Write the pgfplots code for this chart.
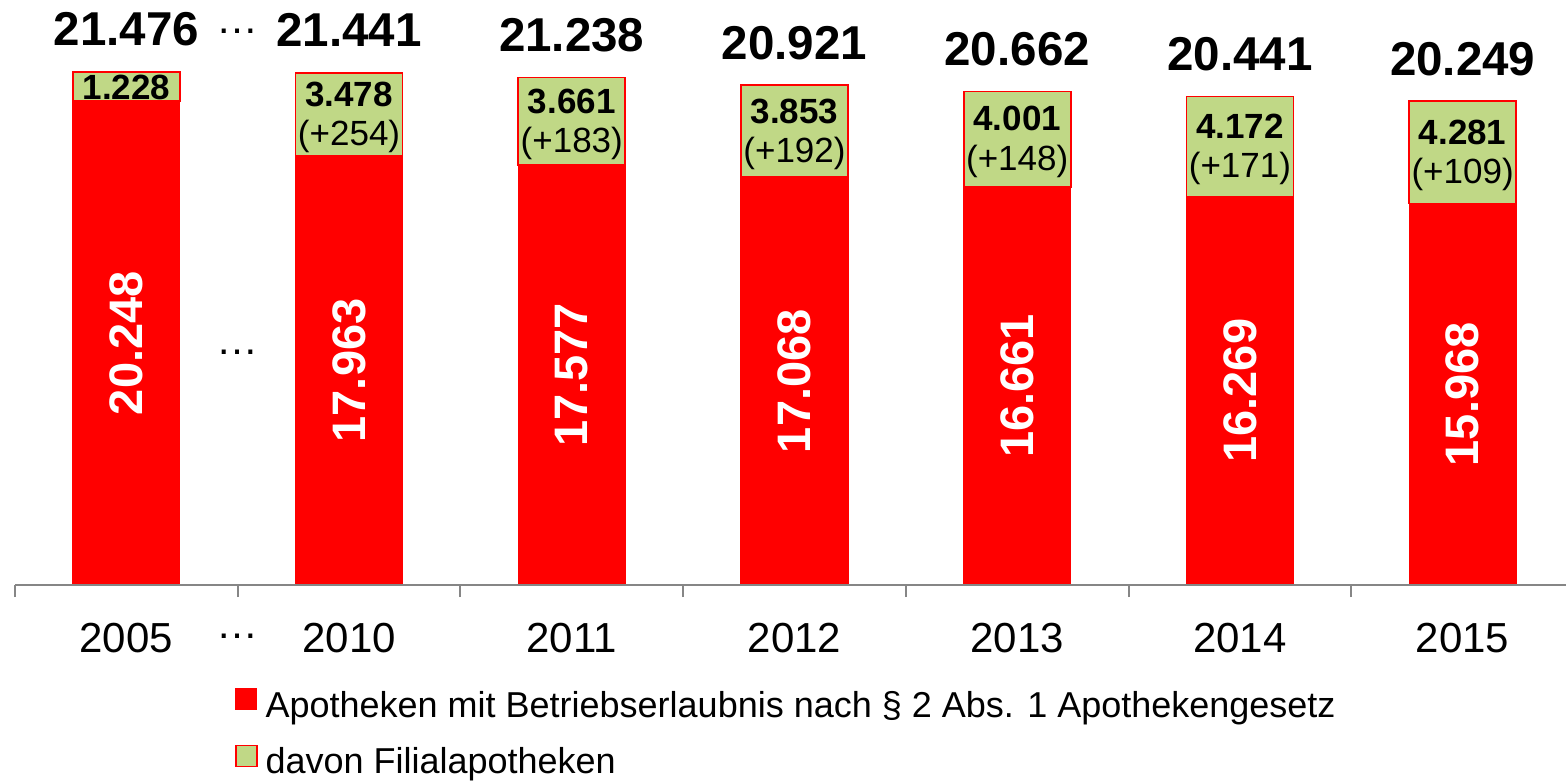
\documentclass[border=0pt]{standalone}
\usepackage{pgfplots}
\pgfplotsset{compat=1.18}
\usepackage{pgfplotstable}
\usepackage{fontspec}
\setmainfont{Liberation Sans}
\definecolor{barred}{RGB}{255,0,0}
\definecolor{bargreen}{RGB}{192,216,134}
\definecolor{axisgray}{RGB}{134,134,134}

\pgfplotstableread{
x red green
0 20248 1228
1 17963 3478
2 17577 3661
3 17068 3853
4 16661 4001
5 16269 4172
6 15968 4281
}\datatable

\newcommand{\totfont}{\bfseries\fontsize{23.75}{28}\selectfont}
\newcommand{\redfont}{\bfseries\fontsize{23.5}{28}\selectfont}
\newcommand{\grfont}{\fontsize{17.5}{19.8}\selectfont}
\newcommand{\dotsfont}{\fontsize{21}{25}\selectfont}

\begin{document}
\begin{tikzpicture}
\begin{axis}[
  set layers=standard,
  scale only axis, width=775.7pt, height=292.5pt,
  xmin=-0.5, xmax=6.466, ymin=0, ymax=24487,
  clip=false,
  ybar stacked, bar width=53.5pt,
  axis y line=none, axis x line*=bottom,
  x axis line style={axisgray, line width=1pt, -},
  tick style={axisgray, line width=1pt},
  xtick={0,1,2,3,4,5,6},
  xticklabels={2005,2010,2011,2012,2013,2014,2015},
  major tick length=0pt,
  xticklabel style={font=\fontsize{21}{25}\selectfont, anchor=base, yshift=-33.5pt},
  extra x ticks={-0.5,0.5,1.5,2.5,3.5,4.5,5.5},
  extra x tick labels={},
  extra x tick style={major tick length=6pt, tick align=outside},
  legend style={at={(axis description cs:0.1418,-0.1761)}, anchor=north west,
    draw=none, fill=none, inner sep=0pt, outer sep=0pt,
    font=\fontsize{18}{21}\selectfont, row sep=8.75pt,
    nodes={text height=13pt, text depth=4pt, inner sep=1pt},
    /tikz/column sep=3pt},
  legend cell align=left,
  legend image code/.code={\draw[#1] (0pt,-0.8pt) rectangle (10.5pt,9.7pt);},
]
\addplot[fill=barred, draw=barred, line width=0.6pt, on layer=axis background] table[x=x, y=red] {\datatable};
\addplot[fill=bargreen, draw=barred, line width=0.8pt, on layer=axis background] table[x=x, y=green] {\datatable};
\legend{Apotheken mit Betriebserlaubnis nach § 2 Abs. 1 Apothekengesetz, davon Filialapotheken}

% totals
\node[anchor=base, yshift=13pt, font=\totfont] at (axis cs:0,21476) {21.476};
\node[anchor=base, yshift=13pt, font=\totfont] at (axis cs:1,21441) {21.441};
\node[anchor=base, yshift=13pt, font=\totfont] at (axis cs:2,21238) {21.238};
\node[anchor=base, yshift=13pt, font=\totfont] at (axis cs:3,20921) {20.921};
\node[anchor=base, yshift=13pt, font=\totfont] at (axis cs:4,20662) {20.662};
\node[anchor=base, yshift=13pt, font=\totfont] at (axis cs:5,20441) {20.441};
\node[anchor=base, yshift=13pt, font=\totfont] at (axis cs:6,20249) {20.249};

% red segment labels
\node[rotate=90, text=white, font=\redfont] at (axis cs:0,10124) {20.248};
\node[rotate=90, text=white, font=\redfont] at (axis cs:1,8981.5) {17.963};
\node[rotate=90, text=white, font=\redfont] at (axis cs:2,8788.5) {17.577};
\node[rotate=90, text=white, font=\redfont] at (axis cs:3,8534) {17.068};
\node[rotate=90, text=white, font=\redfont] at (axis cs:4,8330.5) {16.661};
\node[rotate=90, text=white, font=\redfont] at (axis cs:5,8134.5) {16.269};
\node[rotate=90, text=white, font=\redfont] at (axis cs:6,7984) {15.968};

% green segment labels
\node[font=\grfont, align=center, inner sep=0pt, yshift=-0.5pt] at (axis cs:0,20862) {\textbf{1.228}};
\node[font=\grfont, align=center, inner sep=0pt, yshift=-1.5pt] at (axis cs:1,19702) {\textbf{3.478}\\(+254)};
\node[font=\grfont, align=center, inner sep=0pt, yshift=-1.5pt] at (axis cs:2,19407.5) {\textbf{3.661}\\(+183)};
\node[font=\grfont, align=center, inner sep=0pt, yshift=-1.5pt] at (axis cs:3,18994.5) {\textbf{3.853}\\(+192)};
\node[font=\grfont, align=center, inner sep=0pt, yshift=-1.5pt] at (axis cs:4,18661.5) {\textbf{4.001}\\(+148)};
\node[font=\grfont, align=center, inner sep=0pt, yshift=-1.5pt] at (axis cs:5,18355) {\textbf{4.172}\\(+171)};
\node[font=\grfont, align=center, inner sep=0pt, yshift=-1.5pt] at (axis cs:6,18108.5) {\textbf{4.281}\\(+109)};

% gap markers
\node[anchor=base, font=\dotsfont, inner sep=0pt] at (axis cs:0.5,23085) {…};
\node[anchor=base, font=\dotsfont, inner sep=0pt] at (axis cs:0.5,9648) {…};
\node[anchor=base, font=\dotsfont, inner sep=0pt] at (axis cs:0.5,-2239) {…};
\end{axis}
\pgfresetboundingbox
\path (-7.5pt,-98.5pt) rectangle (775.5pt,292.5pt);
\end{tikzpicture}
\end{document}
